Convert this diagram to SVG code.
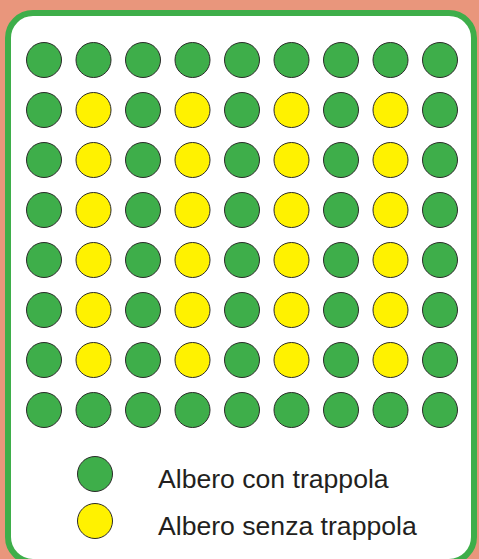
<svg xmlns="http://www.w3.org/2000/svg" width="479" height="559" viewBox="0 0 479 559">
<style>
.g{fill:#3EAE4A;stroke:#2B2A29;stroke-width:1}
.y{fill:#FFF200;stroke:#2B2A29;stroke-width:1}
.t{font-family:"Liberation Sans",Arial,sans-serif;font-size:26.6px;fill:#231F20}
</style>
<defs>
<circle id="cg" r="17.5" class="g"/>
<circle id="cy" r="17.5" class="y"/>
</defs>
<rect x="0" y="0" width="479" height="559" fill="#E9967C"/>
<rect x="8" y="13" width="466" height="549" rx="25" ry="25" fill="#FFFFFF" stroke="#3EAE4A" stroke-width="6"/>
<g id="grid">
<g id="row1">
<use href="#cg" x="44" y="60"/><use href="#cg" x="93.5" y="60"/><use href="#cg" x="143" y="60"/><use href="#cg" x="192.5" y="60"/><use href="#cg" x="242" y="60"/><use href="#cg" x="291.5" y="60"/><use href="#cg" x="341" y="60"/><use href="#cg" x="390.5" y="60"/><use href="#cg" x="440" y="60"/>
</g>
<g id="row2">
<use href="#cg" x="44" y="110"/><use href="#cy" x="93.5" y="110"/><use href="#cg" x="143" y="110"/><use href="#cy" x="192.5" y="110"/><use href="#cg" x="242" y="110"/><use href="#cy" x="291.5" y="110"/><use href="#cg" x="341" y="110"/><use href="#cy" x="390.5" y="110"/><use href="#cg" x="440" y="110"/>
</g>
<g id="row3">
<use href="#cg" x="44" y="160"/><use href="#cy" x="93.5" y="160"/><use href="#cg" x="143" y="160"/><use href="#cy" x="192.5" y="160"/><use href="#cg" x="242" y="160"/><use href="#cy" x="291.5" y="160"/><use href="#cg" x="341" y="160"/><use href="#cy" x="390.5" y="160"/><use href="#cg" x="440" y="160"/>
</g>
<g id="row4">
<use href="#cg" x="44" y="210"/><use href="#cy" x="93.5" y="210"/><use href="#cg" x="143" y="210"/><use href="#cy" x="192.5" y="210"/><use href="#cg" x="242" y="210"/><use href="#cy" x="291.5" y="210"/><use href="#cg" x="341" y="210"/><use href="#cy" x="390.5" y="210"/><use href="#cg" x="440" y="210"/>
</g>
<g id="row5">
<use href="#cg" x="44" y="260"/><use href="#cy" x="93.5" y="260"/><use href="#cg" x="143" y="260"/><use href="#cy" x="192.5" y="260"/><use href="#cg" x="242" y="260"/><use href="#cy" x="291.5" y="260"/><use href="#cg" x="341" y="260"/><use href="#cy" x="390.5" y="260"/><use href="#cg" x="440" y="260"/>
</g>
<g id="row6">
<use href="#cg" x="44" y="310"/><use href="#cy" x="93.5" y="310"/><use href="#cg" x="143" y="310"/><use href="#cy" x="192.5" y="310"/><use href="#cg" x="242" y="310"/><use href="#cy" x="291.5" y="310"/><use href="#cg" x="341" y="310"/><use href="#cy" x="390.5" y="310"/><use href="#cg" x="440" y="310"/>
</g>
<g id="row7">
<use href="#cg" x="44" y="360"/><use href="#cy" x="93.5" y="360"/><use href="#cg" x="143" y="360"/><use href="#cy" x="192.5" y="360"/><use href="#cg" x="242" y="360"/><use href="#cy" x="291.5" y="360"/><use href="#cg" x="341" y="360"/><use href="#cy" x="390.5" y="360"/><use href="#cg" x="440" y="360"/>
</g>
<g id="row8">
<use href="#cg" x="44" y="410"/><use href="#cg" x="93.5" y="410"/><use href="#cg" x="143" y="410"/><use href="#cg" x="192.5" y="410"/><use href="#cg" x="242" y="410"/><use href="#cg" x="291.5" y="410"/><use href="#cg" x="341" y="410"/><use href="#cg" x="390.5" y="410"/><use href="#cg" x="440" y="410"/>
</g>
</g>
<g id="legend-green">
<use href="#cg" x="95" y="474"/>
<text class="t" x="158" y="488">Albero con trappola</text>
</g>
<g id="legend-yellow">
<use href="#cy" x="95" y="521"/>
<text class="t" x="158" y="535">Albero senza trappola</text>
</g>
<g id="connectors"/>
</svg>
